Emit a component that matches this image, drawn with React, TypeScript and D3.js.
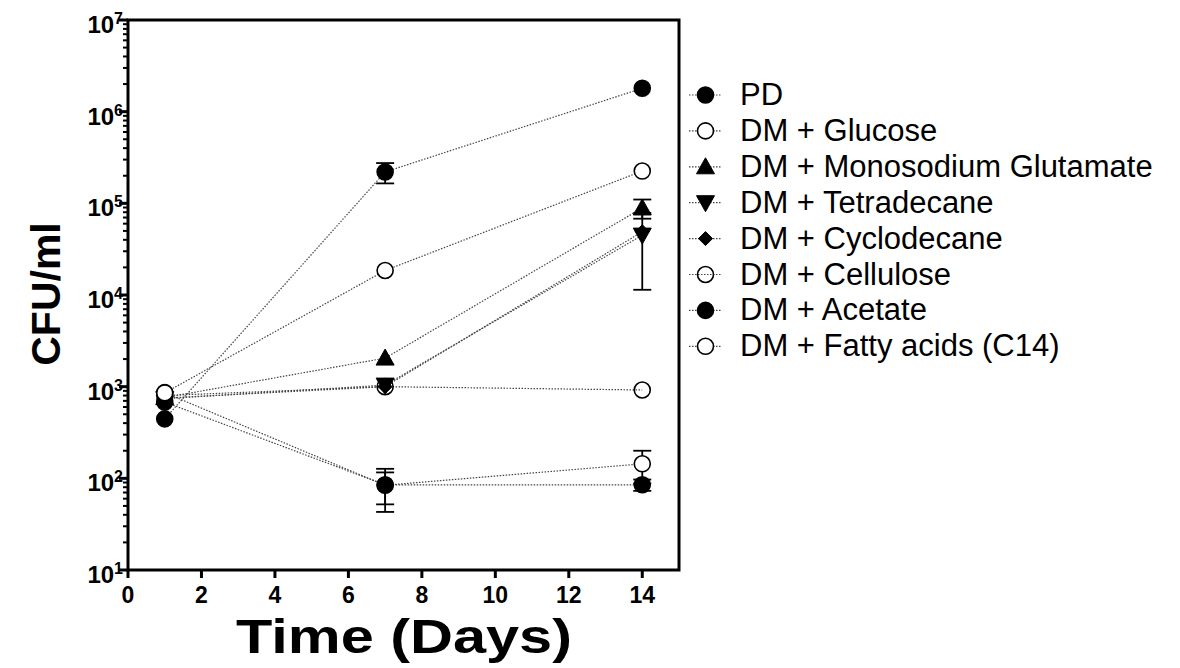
import React from "react";
import * as d3 from "d3";

const days = [1, 7, 14];
const seriesNames = [
  "PD",
  "DM + Glucose",
  "DM + Monosodium Glutamate",
  "DM + Tetradecane",
  "DM + Cyclodecane",
  "DM + Cellulose",
  "DM + Acetate",
  "DM + Fatty acids (C14)",
];
const seriesSymbols = ["circle", "circle", "triUp", "triDown", "diamond", "circle", "circle", "circle"];
const seriesFills = ["#000", "#fff", "#000", "#000", "#000", "none", "#000", "#fff"];

const pdValues = [445, 2.2e5, 1.8e6];
const glucoseValues = [855, 1.85e4, 2.25e5];
const msgValues = [760, 2.05e3, 8.9e4];
const tetradecaneValues = [740, 1.04e3, 4.5e4];
const cyclodecaneValues = [750, 1.0e3, 4.9e4];
const celluloseValues = [800, 1.0e3, 920];
const acetateValues = [680, 85, 85];
const fattyValues = [860, 84, 144];

const pdErr = [0, 5.5e4, 0];
const glucoseErr = [0, 0, 0];
const msgErr = [0, 0, 2.1e4];
const tetradecaneErr = [0, 0, 3.36e4];
const cyclodecaneErr = [0, 0, 0];
const celluloseErr = [0, 0, 0];
const acetateErr = [0, 42, 12];
const fattyErr = [0, 32, 56];

const allValues = [pdValues, glucoseValues, msgValues, tetradecaneValues, cyclodecaneValues, celluloseValues, acetateValues, fattyValues];
const allErrs = [pdErr, glucoseErr, msgErr, tetradecaneErr, cyclodecaneErr, celluloseErr, acetateErr, fattyErr];

const xTicks = [0, 2, 4, 6, 8, 10, 12, 14];
const yDecades = [1, 2, 3, 4, 5, 6, 7];

const W = 1180, H = 668;
const L = 128, R = 679, T = 20, B = 570;

function Marker({ kind, cx, cy, fill }: { kind: string; cx: number; cy: number; fill: string }) {
  const s = 8;
  if (kind === "circle") return <circle cx={cx} cy={cy} r={s} fill={fill} stroke="#000" strokeWidth={1.6} />;
  if (kind === "triUp")
    return <path d={`M${cx},${cy - s - 1}L${cx + s + 1},${cy + s - 1}L${cx - s - 1},${cy + s - 1}Z`} fill={fill} stroke="#000" strokeWidth={1} />;
  if (kind === "triDown")
    return <path d={`M${cx},${cy + s + 1}L${cx + s + 1},${cy - s + 1}L${cx - s - 1},${cy - s + 1}Z`} fill={fill} stroke="#000" strokeWidth={1} />;
  const d = 7;
  return <path d={`M${cx},${cy - d}L${cx + d},${cy}L${cx},${cy + d}L${cx - d},${cy}Z`} fill={fill} stroke="#000" strokeWidth={1} />;
}

export default function App() {
  const x = d3.scaleLinear().domain([0, 15]).range([L, R]);
  const y = d3.scaleLog().domain([10, 1e7]).range([B, T]);
  const line = d3.line<number>().x((_, i) => x(days[i])).y((v) => y(v));
  const minor: number[] = [];
  for (let e = 1; e < 7; e++) for (let m = 2; m <= 9; m++) minor.push(m * Math.pow(10, e));
  const font = "'Liberation Sans', Arial, sans-serif";
  const order = d3.range(seriesNames.length).reverse();
  return (
    <svg width={W} height={H} style={{ position: "absolute", left: 0, top: 0 }} fontFamily={font}>
      <rect width={W} height={H} fill="#fff" />
      {order.map((si) => (
        <path key={"l" + si} d={line(allValues[si]) || ""} fill="none" stroke="#444" strokeWidth={1.2} strokeDasharray="1.5,1.5" />
      ))}
      {order.map((si) =>
        allValues[si].map((v, i) => {
          const e = allErrs[si][i];
          if (!e) return null;
          const cx = x(days[i]);
          const y1 = y(v + e), y2 = y(Math.max(v - e, 1));
          return (
            <g key={"e" + si + "-" + i} stroke="#000" strokeWidth={1.8}>
              <line x1={cx} x2={cx} y1={y1} y2={y2} />
              <line x1={cx - 9} x2={cx + 9} y1={y1} y2={y1} />
              <line x1={cx - 9} x2={cx + 9} y1={y2} y2={y2} />
            </g>
          );
        })
      )}
      {order.map((si) =>
        allValues[si].map((v, i) => (
          <Marker key={"m" + si + "-" + i} kind={seriesSymbols[si]} cx={x(days[i])} cy={y(v)} fill={seriesFills[si]} />
        ))
      )}
      <rect x={L} y={T} width={R - L} height={B - T} fill="none" stroke="#000" strokeWidth={3} />
      {yDecades.map((d) => (
        <g key={"yd" + d}>
          <line x1={L - 9} x2={L} y1={y(Math.pow(10, d))} y2={y(Math.pow(10, d))} stroke="#000" strokeWidth={3} />
          <text x={L - 5} y={y(Math.pow(10, d)) + 13} textAnchor="end" fontSize={24} fontWeight="bold">
            10<tspan dy={-9} fontSize={16}>{d}</tspan>
          </text>
        </g>
      ))}
      {minor.map((v) => (
        <line key={"ym" + v} x1={L - 5} x2={L} y1={y(v)} y2={y(v)} stroke="#000" strokeWidth={2} />
      ))}
      {xTicks.map((t) => (
        <g key={"xt" + t}>
          <line x1={x(t)} x2={x(t)} y1={B} y2={B + 8} stroke="#000" strokeWidth={3} />
          <text x={x(t)} y={B + 33} textAnchor="middle" fontSize={23} fontWeight="bold">{t}</text>
        </g>
      ))}
      <text x={404} y={653} textAnchor="middle" fontSize={49} fontWeight="bold" textLength={336} lengthAdjust="spacingAndGlyphs">Time (Days)</text>
      <text transform={`translate(60,294) rotate(-90)`} textAnchor="middle" fontSize={41} fontWeight="bold">CFU/ml</text>
      {seriesNames.map((n, i) => {
        const ly = 95 + i * 35.9;
        return (
          <g key={"lg" + i}>
            <line x1={689} x2={722} y1={ly} y2={ly} stroke="#444" strokeWidth={1.2} strokeDasharray="1.5,1.5" />
            <Marker kind={seriesSymbols[i]} cx={705.5} cy={ly} fill={seriesFills[i]} />
            <text x={740} y={ly + 10} fontSize={31}>{n}</text>
          </g>
        );
      })}
    </svg>
  );
}
